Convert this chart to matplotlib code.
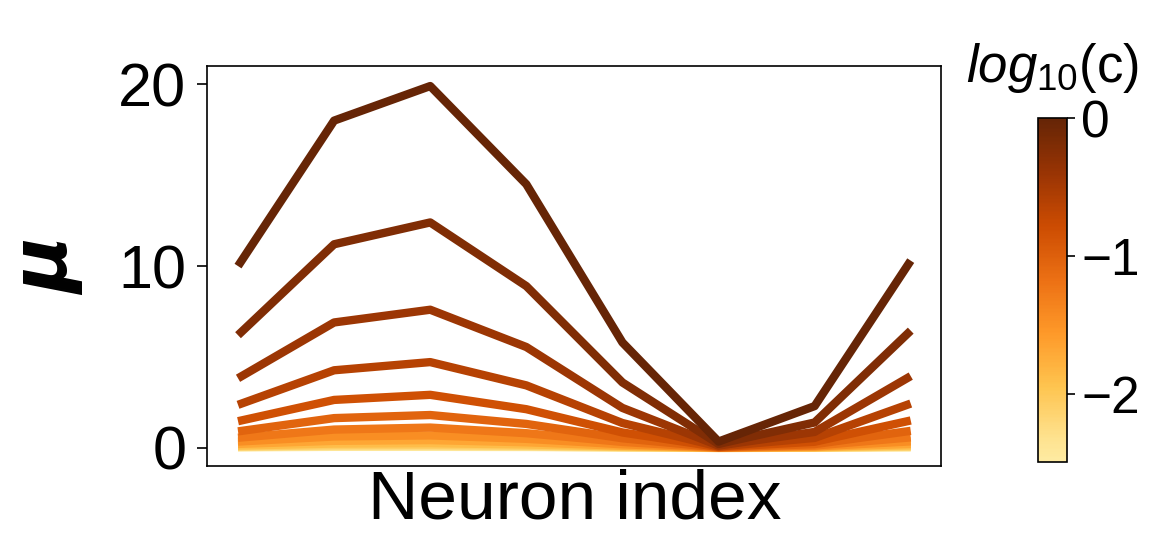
import numpy as np
import matplotlib
matplotlib.use('Agg')
import matplotlib.pyplot as plt
from matplotlib.colors import ListedColormap, Normalize
from matplotlib.cm import ScalarMappable

plt.rcParams['font.family'] = ['Liberation Sans', 'DejaVu Sans']
plt.rcParams['mathtext.fontset'] = 'custom'
plt.rcParams['mathtext.it'] = 'Liberation Sans:italic'
plt.rcParams['mathtext.rm'] = 'Liberation Sans'

# neuron positions (no tick labels shown)
neurons = [0, 1, 2, 3, 4, 5, 6, 7]

# log10 of c for each curve, smallest first
log10_c = [-2.5, -2.29, -2.08, -1.88, -1.67, -1.46, -1.25,
           -1.04, -0.83, -0.62, -0.42, -0.21, 0.0]

# mean response per neuron for each c
mu = [
    [0.03, 0.06, 0.06, 0.05, 0.02, 0.00, 0.01, 0.03],
    [0.05, 0.09, 0.10, 0.07, 0.03, 0.00, 0.01, 0.05],
    [0.08, 0.15, 0.16, 0.12, 0.05, 0.00, 0.02, 0.08],
    [0.13, 0.24, 0.26, 0.19, 0.08, 0.01, 0.03, 0.14],
    [0.22, 0.39, 0.43, 0.31, 0.12, 0.01, 0.05, 0.22],
    [0.35, 0.63, 0.69, 0.50, 0.20, 0.01, 0.08, 0.36],
    [0.56, 1.01, 1.12, 0.81, 0.33, 0.02, 0.13, 0.58],
    [0.91, 1.64, 1.81, 1.32, 0.53, 0.03, 0.21, 0.94],
    [1.47, 2.64, 2.92, 2.13, 0.85, 0.05, 0.34, 1.51],
    [2.37, 4.27, 4.72, 3.44, 1.37, 0.08, 0.55, 2.44],
    [3.83, 6.90, 7.60, 5.55, 2.20, 0.13, 0.88, 3.95],
    [6.20, 11.2, 12.4, 8.90, 3.60, 0.22, 1.40, 6.45],
    [10.0, 18.0, 19.9, 14.5, 5.80, 0.35, 2.30, 10.3],
]

base = plt.get_cmap('YlOrBr')
cmap = ListedColormap(base(np.linspace(0.2, 1.0, 256)))
norm = Normalize(vmin=-2.5, vmax=0)

fig = plt.figure(figsize=(11.71, 5.37), dpi=100)
ax = fig.add_axes([0.177, 0.132, 0.627, 0.745])

for lc, row in zip(log10_c, mu):
    ax.plot(neurons, row, color=cmap(norm(lc)), lw=6, solid_capstyle='butt')

ax.set_xlim(-0.32, 7.32)
ax.set_ylim(-1, 21)
ax.set_xticks([])
ax.set_yticks([0, 10, 20])
ax.tick_params(axis='y', labelsize=44, length=7, width=1.2, pad=8)
for s in ax.spines.values():
    s.set_linewidth(1.2)
ax.set_xlabel('Neuron index', fontsize=50, labelpad=2)
ax.set_ylabel('μ', fontsize=56, fontweight='bold', style='italic',
              family='DejaVu Sans', labelpad=24)

cax = fig.add_axes([0.8865, 0.139, 0.025, 0.641])
sm = ScalarMappable(norm=norm, cmap=cmap)
cb = fig.colorbar(sm, cax=cax, ticks=[0, -1, -2])
cb.ax.tick_params(labelsize=37, length=6, width=1.2, pad=4)
cb.outline.set_linewidth(1.2)
cb.ax.set_title('$log_{10}$(c)', fontsize=38, pad=26)

fig.savefig('out.png', dpi=100)
